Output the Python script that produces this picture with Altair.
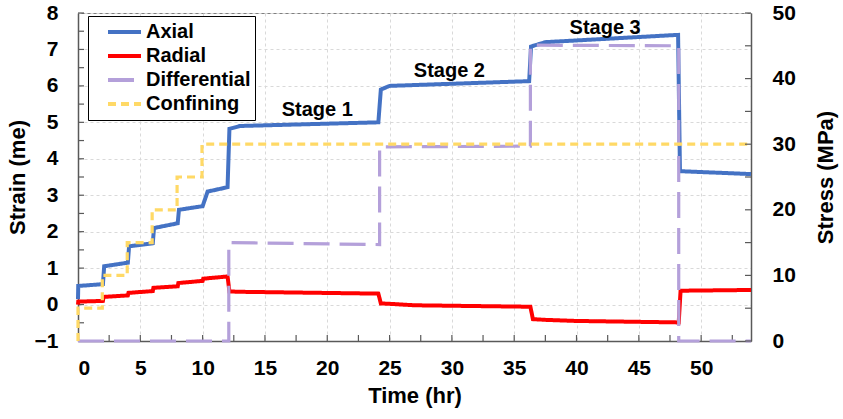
import altair as alt
import pandas as pd

FONT = "Liberation Sans"

# ---- data ----
series_names = ["Axial", "Radial", "Differential", "Confining"]
series_colors = ["#4472C4", "#FF0000", "#B4A0DA", "#FFD966"]
series_dashes = [[1, 0], [1, 0], [26, 10], [8, 5]]

# strain (me), left axis
axial_t = [0, 0.02, 2.0, 2.1, 4.0, 4.1, 6.0, 6.1, 8.0, 8.1, 10.0, 10.4, 12.0, 12.15, 13.0, 24.1, 24.3, 25.0, 36.2, 36.35, 37.5, 48.15, 48.3, 54]
axial_v = [0.15, 0.51, 0.56, 1.05, 1.15, 1.6, 1.68, 2.1, 2.23, 2.6, 2.7, 3.1, 3.22, 4.82, 4.9, 5.0, 5.9, 6.0, 6.13, 7.08, 7.2, 7.4, 3.66, 3.58]

radial_t = [0, 0.02, 2.0, 2.05, 4.0, 4.05, 6.0, 6.05, 8.0, 8.05, 10.0, 10.05, 12.0, 12.15, 13.0, 24.1, 24.3, 25.0, 27.0, 36.3, 36.5, 37.5, 40.0, 48.2, 48.35, 54]
radial_v = [0.0, 0.08, 0.1, 0.21, 0.25, 0.32, 0.37, 0.46, 0.5, 0.59, 0.65, 0.71, 0.77, 0.36, 0.35, 0.3, 0.03, 0.02, -0.02, -0.06, -0.4, -0.42, -0.45, -0.49, 0.38, 0.4]

# stress (MPa), right axis
diff_t = [0, 12.1, 12.1, 24.2, 24.2, 36.3, 36.3, 48.2, 48.2, 54]
diff_v = [0, 0, 15.0, 14.7, 29.6, 29.7, 45.1, 45.0, 0, 0]

conf_t = [0, 0, 1.95, 1.95, 3.95, 3.95, 5.95, 5.95, 7.95, 7.95, 9.95, 9.95, 54]
conf_v = [0, 5, 5, 10, 10, 15, 15, 20, 20, 25, 25, 30, 30]

stage_labels = ["Stage 1", "Stage 2", "Stage 3"]
stage_t = [19.2, 29.8, 42.3]
stage_v = [5.33, 6.4, 7.6]

x_label_values = [0, 5, 10, 15, 20, 25, 30, 35, 40, 45, 50]
x_tick_values = [0, 2.5, 5, 7.5, 10, 12.5, 15, 17.5, 20, 22.5, 25, 27.5, 30, 32.5,
                 35, 37.5, 40, 42.5, 45, 47.5, 50, 52.5]
strain_label_values = [-1, 0, 1, 2, 3, 4, 5, 6, 7, 8]
strain_tick_values = [-1, -0.5, 0, 0.5, 1, 1.5, 2, 2.5, 3, 3.5, 4, 4.5, 5, 5.5,
                      6, 6.5, 7, 7.5, 8]
stress_label_values = [0, 10, 20, 30, 40, 50]
stress_tick_values = [0, 5, 10, 15, 20, 25, 30, 35, 40, 45, 50]

W, H = 673, 328
AXIS_COLOR = "#595959"


def long_df(pairs):
    rows = []
    for name, ts, vs in pairs:
        for i, (t, v) in enumerate(zip(ts, vs)):
            rows.append({"series": name, "t": t, "v": v, "i": i})
    return pd.DataFrame(rows)


strain_df = long_df([("Axial", axial_t, axial_v), ("Radial", radial_t, radial_v)])
stress_df = long_df([("Differential", diff_t, diff_v), ("Confining", conf_t, conf_v)])
stage_df = pd.DataFrame({"label": stage_labels, "t": stage_t, "v": stage_v})
xt_df = pd.DataFrame({"t": x_tick_values})
st_df = pd.DataFrame({"v": strain_tick_values})
pt_df = pd.DataFrame({"v": stress_tick_values})

common_axis = dict(
    labelFont=FONT, labelFontSize=21, labelFontWeight="bold", labelColor="black",
    titleFont=FONT, titleFontSize=22, titleFontWeight="bold", titleColor="black",
    domainColor=AXIS_COLOR, domainWidth=1.5, ticks=False,
)

x_enc = alt.X(
    "t:Q",
    scale=alt.Scale(domain=[0, 54], nice=False, zero=False),
    axis=alt.Axis(values=x_label_values, title="Time (hr)", grid=True,
                  gridDash=[3, 3], gridColor="#d9d9d9", labelPadding=16,
                  titlePadding=7, **common_axis),
)

y_strain = alt.Y(
    "v:Q",
    scale=alt.Scale(domain=[-1, 8], nice=False, zero=False),
    axis=alt.Axis(values=strain_label_values, title="Strain (me)", grid=True,
                  gridDash=[3, 3], gridColor="#d9d9d9", labelPadding=20,
                  titlePadding=5, **common_axis),
)

y_stress = alt.Y(
    "v:Q",
    scale=alt.Scale(domain=[0, 50], nice=False, zero=False),
    axis=alt.Axis(orient="right", values=stress_label_values, title="Stress (MPa)",
                  titleAngle=270, titleBaseline="top",
                  grid=False, labelPadding=21, titlePadding=20, **common_axis),
)

color_enc = alt.Color(
    "series:N",
    scale=alt.Scale(domain=series_names, range=series_colors),
    legend=alt.Legend(title=None),
)
dash_enc = alt.StrokeDash(
    "series:N",
    scale=alt.Scale(domain=series_names, range=series_dashes),
    legend=alt.Legend(title=None),
)

strain_lines = alt.Chart(strain_df).mark_line(strokeWidth=4).encode(
    x=x_enc, y=y_strain, color=color_enc, strokeDash=dash_enc,
    order=alt.Order("i:Q"),
)
stage_text = alt.Chart(stage_df).mark_text(
    font=FONT, fontSize=20, fontWeight="bold", color="black",
    align="center", baseline="middle",
).encode(x=x_enc, y=y_strain, text="label:N")
x_ticks = alt.Chart(xt_df).mark_rule(color=AXIS_COLOR, strokeWidth=1.2).encode(
    x=x_enc, y=alt.value(H - 6), y2=alt.value(H)
)
left_ticks = alt.Chart(st_df).mark_rule(color=AXIS_COLOR, strokeWidth=1.2).encode(
    y=y_strain, x=alt.value(0), x2=alt.value(6)
)

stress_lines = alt.Chart(stress_df).mark_line(strokeWidth=3.2).encode(
    x=x_enc, y=y_stress, color=color_enc, strokeDash=dash_enc,
    order=alt.Order("i:Q"),
)
right_ticks = alt.Chart(pt_df).mark_rule(color=AXIS_COLOR, strokeWidth=1.2).encode(
    y=y_stress, x=alt.value(W - 6), x2=alt.value(W)
)

strain_layer = alt.layer(x_ticks, left_ticks, strain_lines, stage_text)
stress_layer = alt.layer(stress_lines, right_ticks)

chart = (
    alt.layer(strain_layer, stress_layer)
    .resolve_scale(y="independent")
    .properties(
        width=W, height=H,
        autosize=alt.AutoSizeParams(type="none"),
        padding={"left": 78, "top": 13, "right": 92, "bottom": 78},
        background="white",
    )
    .configure_view(stroke="#7f7f7f", strokeWidth=1)
    .configure_legend(
        orient="none", legendX=10, legendY=3,
        strokeColor="black", fillColor="white", padding=4,
        symbolType="stroke", symbolSize=1089, symbolStrokeWidth=4,
        symbolOffset=14, labelOffset=3, clipHeight=24, rowPadding=0,
        labelFont=FONT, labelFontSize=20, labelFontWeight="bold",
        labelColor="black",
    )
)

chart.save("out.html", embed_options={"renderer": "svg", "actions": False})
